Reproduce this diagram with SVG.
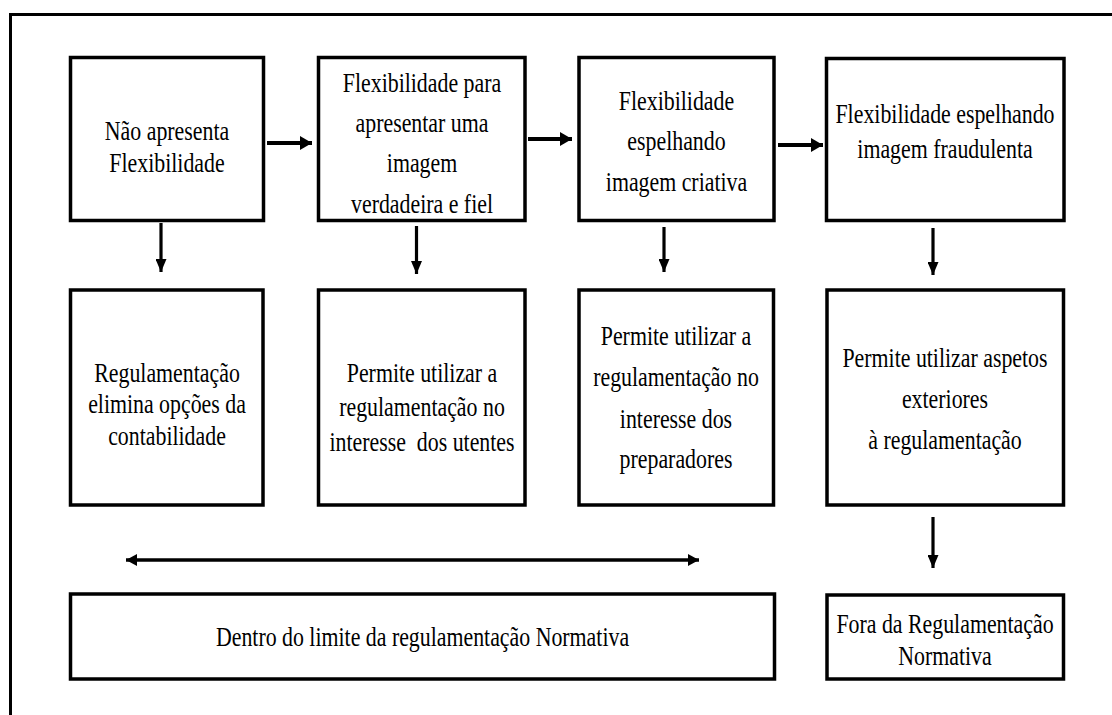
<svg xmlns="http://www.w3.org/2000/svg" width="1112" height="715" viewBox="0 0 1112 715">
<style>
.box{fill:#fff;stroke:#000;stroke-width:3.5}
.frame{fill:none;stroke:#000;stroke-width:3}
.t{font-family:"Liberation Serif","Times New Roman","DejaVu Serif",serif;font-size:27px;fill:#000;text-anchor:middle}
.c{stroke:#000;fill:none}
.h{stroke-width:4;marker-end:url(#ah)}
.v{stroke-width:3.2;marker-end:url(#av)}
</style>
<defs>
<marker id="ah" markerUnits="userSpaceOnUse" markerWidth="12" markerHeight="14" refX="12" refY="7" orient="auto"><path d="M0,0 L12,7 L0,14 z" fill="#000"/></marker>
<marker id="av" markerUnits="userSpaceOnUse" markerWidth="13" markerHeight="11" refX="13" refY="5.5" orient="auto"><path d="M0,0 L13,5.5 L0,11 z" fill="#000"/></marker>
<marker id="ad" markerUnits="userSpaceOnUse" markerWidth="11" markerHeight="12" refX="11" refY="6" orient="auto-start-reverse"><path d="M0,0 L11,6 L0,12 z" fill="#000"/></marker>
</defs>
<rect width="1112" height="715" fill="#fff"/>
<path class="frame" d="M10.5,715 V14.5 H1112"/>

<g id="n1"><rect class="box" x="70.5" y="57.5" width="193" height="163"/>
<text class="t" font-family="Liberation Serif, serif" transform="translate(167 0) scale(0.81 1)"><tspan x="0" y="140">Não apresenta</tspan><tspan x="0" y="171.7">Flexibilidade</tspan></text></g>
<g id="n2"><rect class="box" x="318.5" y="57.5" width="206.5" height="163"/>
<text class="t" font-family="Liberation Serif, serif" transform="translate(422 0) scale(0.81 1)"><tspan x="0" y="92">Flexibilidade para</tspan><tspan x="0" y="132">apresentar uma</tspan><tspan x="0" y="172.5">imagem</tspan><tspan x="0" y="213">verdadeira e fiel</tspan></text></g>
<g id="n3"><rect class="box" x="579" y="57.5" width="195" height="163"/>
<text class="t" font-family="Liberation Serif, serif" transform="translate(676.5 0) scale(0.81 1)"><tspan x="0" y="110">Flexibilidade</tspan><tspan x="0" y="150.5">espelhando</tspan><tspan x="0" y="191.5">imagem criativa</tspan></text></g>
<g id="n4"><rect class="box" x="826.5" y="58.5" width="237.5" height="162"/>
<text class="t" font-family="Liberation Serif, serif" transform="translate(945 0) scale(0.81 1)"><tspan x="0" y="123">Flexibilidade espelhando</tspan><tspan x="0" y="158">imagem fraudulenta</tspan></text></g>

<g id="n5"><rect class="box" x="70.5" y="290" width="192.5" height="215"/>
<text class="t" font-family="Liberation Serif, serif" transform="translate(167 0) scale(0.81 1)"><tspan x="0" y="381.7">Regulamentação</tspan><tspan x="0" y="413.3">elimina opções da</tspan><tspan x="0" y="445">contabilidade</tspan></text></g>
<g id="n6"><rect class="box" x="318.5" y="290" width="206.5" height="215"/>
<text class="t" font-family="Liberation Serif, serif" transform="translate(422 0) scale(0.81 1)"><tspan x="0" y="382">Permite utilizar a</tspan><tspan x="0" y="416.5">regulamentação no</tspan><tspan x="0" y="451" xml:space="preserve">interesse  dos utentes</tspan></text></g>
<g id="n7"><rect class="box" x="579" y="290" width="194.5" height="215"/>
<text class="t" font-family="Liberation Serif, serif" transform="translate(676 0) scale(0.81 1)"><tspan x="0" y="345">Permite utilizar a</tspan><tspan x="0" y="386.5">regulamentação no</tspan><tspan x="0" y="428">interesse dos</tspan><tspan x="0" y="468">preparadores</tspan></text></g>
<g id="n8"><rect class="box" x="827" y="290" width="236.5" height="215"/>
<text class="t" font-family="Liberation Serif, serif" transform="translate(945 0) scale(0.81 1)"><tspan x="0" y="366.7">Permite utilizar aspetos</tspan><tspan x="0" y="408">exteriores</tspan><tspan x="0" y="449">à regulamentação</tspan></text></g>

<g id="n9"><rect class="box" x="70.5" y="594" width="704" height="85"/>
<text class="t" font-family="Liberation Serif, serif" transform="translate(422.5 0) scale(0.81 1)"><tspan x="0" y="646">Dentro do limite da regulamentação Normativa</tspan></text></g>
<g id="n10"><rect class="box" x="827" y="595" width="236.5" height="84"/>
<text class="t" font-family="Liberation Serif, serif" transform="translate(945 0) scale(0.81 1)"><tspan x="0" y="633">Fora da Regulamentação</tspan><tspan x="0" y="665">Normativa</tspan></text></g>

<g id="connectors">
<line class="c h" x1="267" y1="143" x2="312" y2="143"/>
<line class="c h" x1="528" y1="139" x2="572" y2="139"/>
<line class="c h" x1="778" y1="145" x2="823" y2="145"/>
<line class="c v" x1="161" y1="223" x2="161" y2="272"/>
<line class="c v" x1="416.5" y1="226" x2="416.5" y2="274"/>
<line class="c v" x1="664" y1="227" x2="664" y2="272"/>
<line class="c v" x1="933" y1="228" x2="933" y2="275"/>
<line class="c v" x1="933" y1="517" x2="933" y2="568"/>
<line class="c" stroke-width="3.5" marker-start="url(#ad)" marker-end="url(#ad)" x1="126" y1="560" x2="699" y2="560"/>
</g>
</svg>
